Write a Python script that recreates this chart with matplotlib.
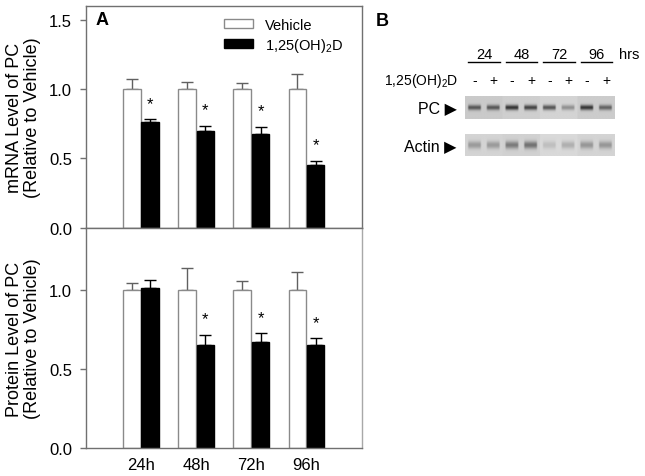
import numpy as np
import matplotlib
matplotlib.use("Agg")
import matplotlib.pyplot as plt
from matplotlib.patches import Patch

plt.rcParams['font.family'] = ['Liberation Sans', 'DejaVu Sans']
plt.rcParams['mathtext.fontset'] = 'custom'
plt.rcParams['mathtext.rm'] = 'Liberation Sans'
plt.rcParams['mathtext.it'] = 'Liberation Sans:italic'

# ---------------- data ----------------
times = ["24h", "48h", "72h", "96h"]
series_names = ["Vehicle", "1,25(OH)$_\\mathregular{2}$D"]

mrna_vehicle = [1.00, 1.00, 1.00, 1.00]
mrna_vehicle_err = [0.07, 0.055, 0.045, 0.11]
mrna_treated = [0.765, 0.695, 0.675, 0.455]
mrna_treated_err = [0.018, 0.04, 0.055, 0.027]
mrna_sig = [True, True, True, True]

prot_vehicle = [1.00, 1.00, 1.00, 1.00]
prot_vehicle_err = [0.04, 0.135, 0.056, 0.113]
prot_treated = [1.012, 0.651, 0.672, 0.651]
prot_treated_err = [0.047, 0.065, 0.053, 0.044]
prot_sig = [False, True, True, True]

blot_groups = ["24", "48", "72", "96"]
blot_signs = ["-", "+", "-", "+", "-", "+", "-", "+"]
pc_band = [0.6, 0.6, 0.8, 0.72, 0.65, 0.35, 0.78, 0.55]
actin_band = [0.3, 0.3, 0.45, 0.5, 0.14, 0.22, 0.32, 0.32]
pc_bg = [0.79, 0.81, 0.83, 0.80]
actin_bg = [0.83, 0.82, 0.85, 0.83]

W, H = 645, 477
fig = plt.figure(figsize=(W / 100, H / 100), dpi=100)

def fx(px):
    return px / W

def fy(py):
    return 1 - py / H

ax_left, ax_right = 86, 361.7
top_t, mid, bot_b = 7, 228.7, 449.3
ax1 = fig.add_axes([fx(ax_left), fy(mid), fx(ax_right - ax_left), (mid - top_t) / H])
ax2 = fig.add_axes([fx(ax_left), fy(bot_b), fx(ax_right - ax_left), (bot_b - mid) / H])

x = np.arange(1, len(times) + 1)
bw = 0.32
off = 0.165
spine_col = "#707070"

def draw_panel(ax, veh, veh_err, trt, trt_err, sig, ylim, ylabel):
    ax.bar(x - off, veh, bw, color="white", edgecolor="#8a8a8a", linewidth=1.0, zorder=2)
    ax.bar(x + off, trt, bw, color="black", edgecolor="black", linewidth=1.0, zorder=2)
    ax.errorbar(x - off, veh, yerr=[np.zeros(len(veh)), veh_err], fmt="none",
                ecolor="#606060", elinewidth=1.0, capsize=4, capthick=1.0, zorder=1)
    ax.errorbar(x + off, trt, yerr=[np.zeros(len(trt)), trt_err], fmt="none",
                ecolor="black", elinewidth=1.0, capsize=4, capthick=1.0, zorder=1)
    for xi, t, e, s in zip(x + off, trt, trt_err, sig):
        if s:
            ax.annotate("*", (xi, t + e), xytext=(0, 6), textcoords="offset points",
                        ha="center", va="bottom", fontsize=12)
    ax.set_xlim(0, 5)
    ax.set_ylim(*ylim)
    ax.set_yticks([0.0, 0.5, 1.0, 1.5] if ylim[1] > 1.5 else [0.0, 0.5, 1.0])
    ax.set_yticklabels([f"{v:.1f}" for v in ax.get_yticks()])
    ax.tick_params(axis="y", direction="out", length=4, width=1, color=spine_col,
                   labelsize=12, pad=6)
    ax.set_ylabel(ylabel, fontsize=13, linespacing=1.05, labelpad=6)
    for s in ax.spines.values():
        s.set_color(spine_col)
        s.set_linewidth(1.0)

draw_panel(ax1, mrna_vehicle, mrna_vehicle_err, mrna_treated, mrna_treated_err, mrna_sig,
           (0, 1.6), "mRNA Level of PC\n(Relative to Vehicle)")
ax1.set_xticks([])
draw_panel(ax2, prot_vehicle, prot_vehicle_err, prot_treated, prot_treated_err, prot_sig,
           (0, 1.39), "Protein Level of PC\n(Relative to Vehicle)")
ax2.set_xticks(x)
ax2.set_xticklabels(times)
ax2.tick_params(axis="x", length=0, labelsize=12, pad=6)
ax2.spines["right"].set_color("#a8a8a8")

ax1.text(0.035, 0.94, "A", transform=ax1.transAxes, fontsize=13, fontweight="bold",
         ha="left", va="center")

handles = [Patch(facecolor="white", edgecolor="#8a8a8a", linewidth=1.0),
           Patch(facecolor="black", edgecolor="black")]
ax1.legend(handles, series_names, loc="upper left", bbox_to_anchor=(0.5, 0.948),
           frameon=False, fontsize=10.5, handlelength=2.0, handleheight=0.6,
           handletextpad=0.85, labelspacing=0.3, borderpad=0, borderaxespad=0)

# ---------------- panel B (western blot) ----------------
axB = fig.add_axes([fx(465.3), fy(170), fx(150), 170 / H])
axB.set_xlim(-0.5, 7.5)
axB.set_ylim(170, 0)
axB.axis("off")

def strip(bands, bgs, y0, y1, sigma):
    nx, ny = 400, 60
    xs = np.linspace(-0.5, 7.5, nx)
    ys = np.linspace(0, 1, ny)
    img = np.zeros((ny, nx))
    for g, bg in enumerate(bgs):
        sel = (xs >= 2 * g - 0.5) & (xs <= 2 * g + 1.5)
        img[:, sel] = bg
    for i, d in enumerate(bands):
        prof_x = np.clip((0.38 - np.abs(xs - i)) / 0.08, 0, 1)
        prof_y = np.exp(-0.5 * ((ys - 0.5) / sigma) ** 2)
        img -= d * 0.75 * np.outer(prof_y, prof_x)
    axB.imshow(np.clip(img, 0, 1), cmap="gray", vmin=0, vmax=1, aspect="auto",
               extent=(-0.5, 7.5, y1, y0), interpolation="bilinear", zorder=1)

strip(pc_band, pc_bg, 97.3, 120.0, 0.08)
strip(actin_band, actin_bg, 135.0, 156.7, 0.12)
axB.set_xlim(-0.5, 7.5)
axB.set_ylim(170, 0)

for g, lab in enumerate(blot_groups):
    c = 2 * g + 0.5
    axB.text(c, 55, lab, ha="center", va="center", fontsize=10.5, clip_on=False)
    axB.plot([c - 0.85, c + 0.85], [63.3, 63.3], color="black", lw=1.0, clip_on=False)
for i, s in enumerate(blot_signs):
    axB.text(i, 81, s, ha="center", va="center", fontsize=10, clip_on=False)

axB.text(7.7, 55, "hrs", ha="left", va="center", fontsize=10.5, clip_on=False)
axB.text(-0.85, 81, "1,25(OH)$_\\mathregular{2}$D", ha="right", va="center",
         fontsize=10, clip_on=False)
axB.text(-0.95, 108.5, "PC \u25B6", ha="right", va="center", fontsize=11.5, clip_on=False)
axB.text(-0.95, 146.5, "Actin \u25B6", ha="right", va="center", fontsize=11.5, clip_on=False)
axB.text(-5.3, 21.7, "B", ha="left", va="center", fontsize=13, fontweight="bold",
         clip_on=False)

fig.savefig("out.png", dpi=100)
